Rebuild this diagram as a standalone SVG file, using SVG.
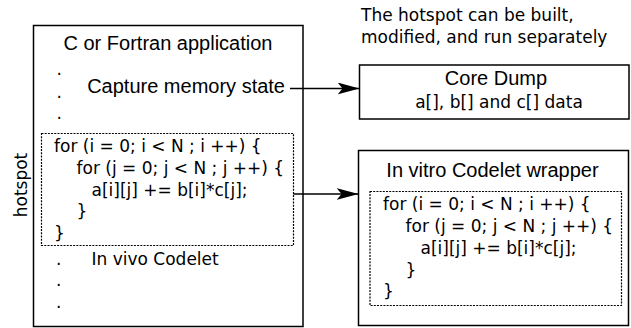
<svg xmlns="http://www.w3.org/2000/svg" width="631" height="328" viewBox="0 0 631 328">
  <style>
    .box { fill: #fff; stroke: #000; stroke-width: 1.5; }
    .dotted { fill: none; stroke: #000; stroke-width: 1.2; stroke-dasharray: 2 1.2; }
    .conn { fill: none; stroke: #000; stroke-width: 1.3; }
    .arial { font-family: "Liberation Sans", Arial, sans-serif; font-size: 20px; fill: #000; }
    .dv { font-family: "DejaVu Sans", Verdana, sans-serif; font-size: 17px; fill: #000; }
    .mid { text-anchor: middle; }
  </style>
  <defs>
    <marker id="arrow" viewBox="0 0 22 12" refX="22" refY="6" markerWidth="22" markerHeight="12" markerUnits="userSpaceOnUse" orient="auto">
      <path d="M0,0 L22,6 L0,12 L5,6 Z" fill="#000"/>
    </marker>
  </defs>

  <!-- host application with its in vivo hotspot -->
  <g id="application">
    <rect class="box" x="33.5" y="25.5" width="269.5" height="301"/>
    <text class="arial mid" x="168" y="49.5">C or Fortran application</text>
    <text class="dv" x="56.5" y="74.5">.</text>
    <text class="dv" x="56.5" y="97.5">.</text>
    <text class="dv" x="56.5" y="118.5">.</text>
    <text class="arial" x="285" y="93" text-anchor="end">Capture memory state</text>
    <text class="dv" x="56" y="264.5">.</text>
    <text class="dv" x="56" y="286">.</text>
    <text class="dv" x="56" y="307.5">.</text>
    <text class="dv" x="91.5" y="265">In vivo Codelet</text>
  </g>

  <g id="in-vivo-codelet">
    <rect class="dotted" x="41.5" y="133.5" width="252" height="112"/>
    <text class="dv" x="54" y="151.5">for (i = 0; i &lt; N ; i ++) {</text>
    <text class="dv" x="76.5" y="173.5">for (j = 0; j &lt; N ; j ++) {</text>
    <text class="dv" x="91.5" y="195.5">a[i][j] += b[i]*c[j];</text>
    <text class="dv" x="76.5" y="217">}</text>
    <text class="dv" x="54" y="238.5">}</text>
  </g>

  <g id="hotspot-label">
    <text class="dv mid" transform="translate(26.5 185) rotate(-90)">hotspot</text>
  </g>

  <g id="note">
    <text class="dv" x="361" y="21">The hotspot can be built,</text>
    <text class="dv" x="361" y="43">modified, and run separately</text>
  </g>

  <g id="core-dump">
    <rect class="box" x="359.5" y="65" width="269.5" height="54"/>
    <text class="arial mid" x="496" y="85">Core Dump</text>
    <text class="dv mid" x="499" y="108">a[], b[] and c[] data</text>
  </g>

  <g id="in-vitro-wrapper">
    <rect class="box" x="358.5" y="150.5" width="270" height="175"/>
    <text class="arial mid" x="492.5" y="176.5">In vitro Codelet wrapper</text>
    <rect class="dotted" x="370" y="191.5" width="251.5" height="114"/>
    <text class="dv" x="383" y="210">for (i = 0; i &lt; N ; i ++) {</text>
    <text class="dv" x="405.5" y="232">for (j = 0; j &lt; N ; j ++) {</text>
    <text class="dv" x="420.5" y="254">a[i][j] += b[i]*c[j];</text>
    <text class="dv" x="405.5" y="275.5">}</text>
    <text class="dv" x="383" y="297">}</text>
  </g>

  <g id="connectors">
    <line class="conn" x1="290" y1="88.5" x2="359.5" y2="88.5" marker-end="url(#arrow)"/>
    <line class="conn" x1="293.5" y1="194" x2="358.5" y2="194" marker-end="url(#arrow)"/>
  </g>
</svg>
